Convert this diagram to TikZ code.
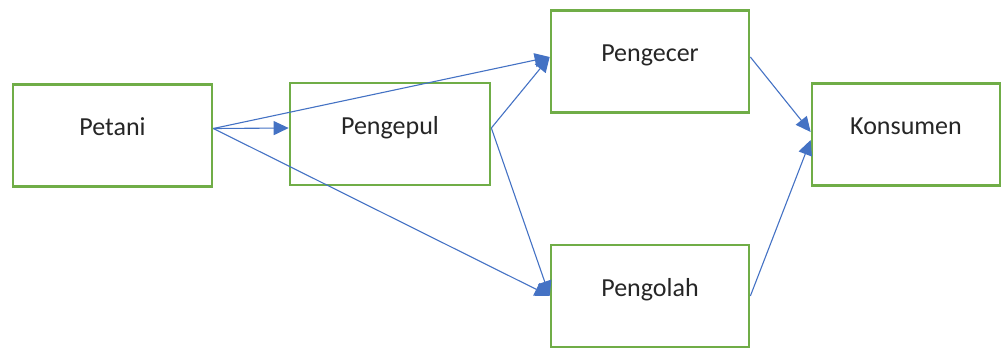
\documentclass[tikz,border=0pt]{standalone}
\usepackage{fontspec}
\setmainfont{Carlito}
\usepackage{xcolor}
\definecolor{boxgreen}{HTML}{70AD47}
\definecolor{arrowblue}{HTML}{4472C4}
\usepackage{tikz}
\usetikzlibrary{arrows.meta}

\begin{document}
\begin{tikzpicture}[x=1pt,y=-1pt,>={Triangle[length=15pt,width=14pt]},line width=1.1pt]
              \tikzstyle{actor}=[rectangle,draw=boxgreen,line width=2.7pt,fill=white,
                                 minimum height=102pt,text height=18pt,text depth=18pt,
                                 font=\fontsize{26}{30}\selectfont,text=black!85,inner sep=0pt]
              \tikzstyle{flow}=[->,color=arrowblue]

              \useasboundingbox (0,0) rectangle (1003,349);

              \node[actor,minimum width=199pt] (petani)   at (112.5,135.5) {Petani};
              \node[actor,minimum width=200pt] (pengepul) at (390,134)     {Pengepul};
              \node[actor,minimum width=198pt] (pengecer) at (650,61.5)    {Pengecer};
              \node[actor,minimum width=198pt] (pengolah) at (650,296)     {Pengolah};
              \node[actor,minimum width=188pt] (konsumen) at (906,134.5)   {Konsumen};

              \path ([yshift=7pt]petani.east)
                        edge [flow] ([yshift=6pt]pengepul.west)
                        edge [flow] ([yshift=4.5pt]pengecer.west)
                        edge [flow] (pengolah.west)
                    ([yshift=6pt]pengepul.east)
                        edge [flow] ([yshift=4.5pt]pengecer.west)
                        edge [flow] (pengolah.west)
                    ([yshift=4.5pt]pengecer.east)
                        edge [flow] ([yshift=2.5pt]konsumen.west)
                    (pengolah.east)
                        edge [flow] ([yshift=-5.5pt]konsumen.west);

\end{tikzpicture}
\end{document}
